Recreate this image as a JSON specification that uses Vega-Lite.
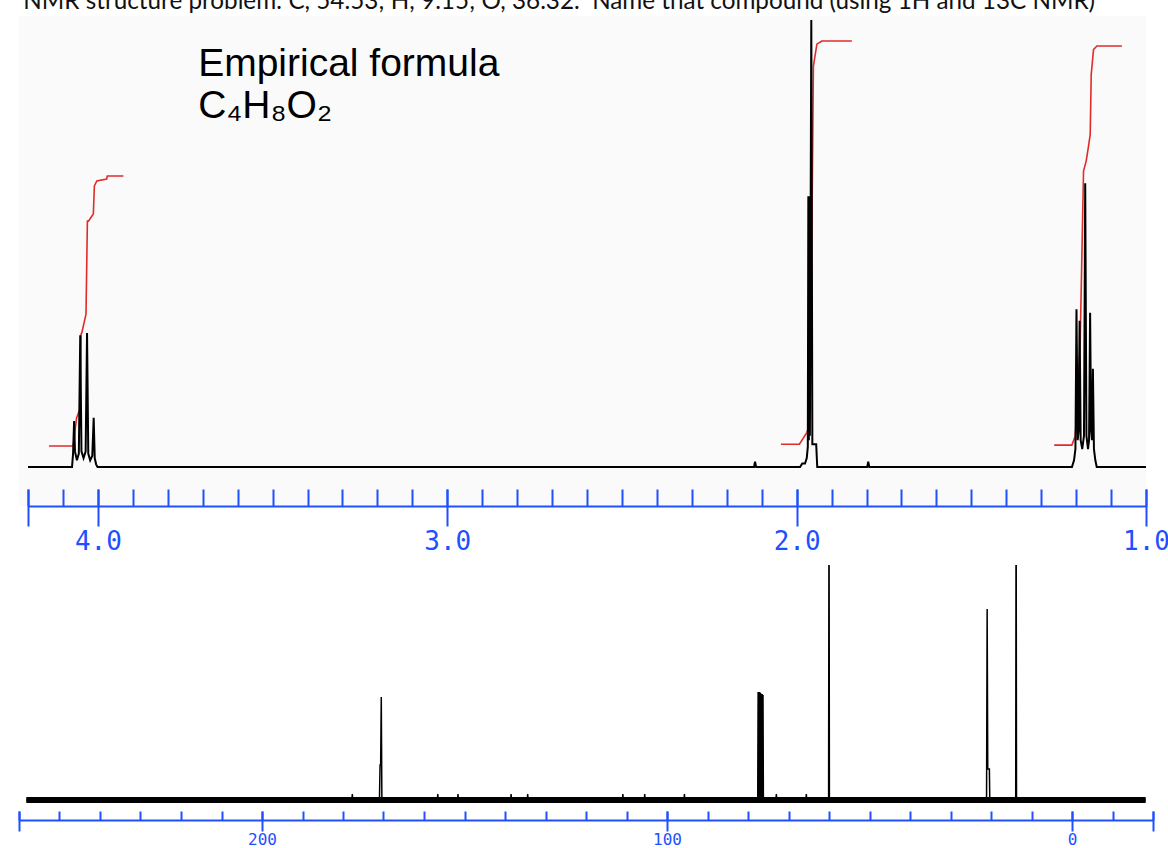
{
  "$schema": "https://vega.github.io/schema/vega-lite/v6.json",
  "background": "white",
  "padding": {"left": 14, "top": -11, "right": 0, "bottom": 0},
  "title": {
    "text": "NMR structure problem: C, 54.53; H, 9.15; O, 36.32. \u00a0Name that compound (using 1H and 13C NMR)",
    "anchor": "start",
    "font": "Lato",
    "fontSize": 24.25,
    "fontWeight": "normal",
    "color": "#111111",
    "offset": 2,
    "dx": 9
  },
  "spacing": 11,
  "datasets": {
    "h1": [
      {"ppm": 4.2, "i": 0},
      {"ppm": 4.074, "i": 0},
      {"ppm": 4.071, "i": 3},
      {"ppm": 4.068, "i": 10.3},
      {"ppm": 4.0655, "i": 3.5},
      {"ppm": 4.06, "i": 1.5},
      {"ppm": 4.0545, "i": 3},
      {"ppm": 4.0505, "i": 29.5},
      {"ppm": 4.047, "i": 3.5},
      {"ppm": 4.041, "i": 2},
      {"ppm": 4.035, "i": 3.5},
      {"ppm": 4.031, "i": 30},
      {"ppm": 4.0275, "i": 3},
      {"ppm": 4.022, "i": 1.5},
      {"ppm": 4.016, "i": 2.5},
      {"ppm": 4.012, "i": 11},
      {"ppm": 4.009, "i": 2},
      {"ppm": 4.005, "i": 0.6},
      {"ppm": 4.001, "i": 0},
      {"ppm": 2.122, "i": 0},
      {"ppm": 2.119, "i": 1.2},
      {"ppm": 2.116, "i": 0},
      {"ppm": 1.99, "i": 0},
      {"ppm": 1.984, "i": 0.8},
      {"ppm": 1.976, "i": 0.8},
      {"ppm": 1.971, "i": 2},
      {"ppm": 1.968, "i": 4.5},
      {"ppm": 1.9665, "i": 60.6},
      {"ppm": 1.965, "i": 6},
      {"ppm": 1.9635, "i": 60.6},
      {"ppm": 1.962, "i": 7},
      {"ppm": 1.958, "i": 100},
      {"ppm": 1.955, "i": 5.1},
      {"ppm": 1.944, "i": 5.1},
      {"ppm": 1.941, "i": 0},
      {"ppm": 1.798, "i": 0},
      {"ppm": 1.795, "i": 1.2},
      {"ppm": 1.792, "i": 0},
      {"ppm": 1.212, "i": 0},
      {"ppm": 1.206, "i": 1.5},
      {"ppm": 1.202, "i": 4},
      {"ppm": 1.199, "i": 35.3},
      {"ppm": 1.1955, "i": 6},
      {"ppm": 1.193, "i": 8},
      {"ppm": 1.19, "i": 32.7},
      {"ppm": 1.187, "i": 6},
      {"ppm": 1.1825, "i": 4},
      {"ppm": 1.1775, "i": 7},
      {"ppm": 1.174, "i": 63.5},
      {"ppm": 1.1705, "i": 7},
      {"ppm": 1.166, "i": 4},
      {"ppm": 1.163, "i": 6},
      {"ppm": 1.16, "i": 34.5},
      {"ppm": 1.157, "i": 8},
      {"ppm": 1.1545, "i": 6},
      {"ppm": 1.152, "i": 22},
      {"ppm": 1.149, "i": 4},
      {"ppm": 1.145, "i": 1.5},
      {"ppm": 1.141, "i": 0},
      {"ppm": 1.0, "i": 0}
    ],
    "h1int": [
      {"seg": "a", "ppm": 4.14, "i": 4.7},
      {"seg": "a", "ppm": 4.071, "i": 4.7},
      {"seg": "a", "ppm": 4.07, "i": 5.1},
      {"seg": "a", "ppm": 4.061, "i": 11},
      {"seg": "a", "ppm": 4.051, "i": 13},
      {"seg": "a", "ppm": 4.048, "i": 29.8},
      {"seg": "a", "ppm": 4.046, "i": 30},
      {"seg": "a", "ppm": 4.034, "i": 34.2},
      {"seg": "a", "ppm": 4.03, "i": 55},
      {"seg": "a", "ppm": 4.027, "i": 55},
      {"seg": "a", "ppm": 4.013, "i": 56.6},
      {"seg": "a", "ppm": 4.01, "i": 62.9},
      {"seg": "a", "ppm": 4.003, "i": 64},
      {"seg": "a", "ppm": 3.975, "i": 64.4},
      {"seg": "a", "ppm": 3.973, "i": 65.1},
      {"seg": "a", "ppm": 3.927, "i": 65.1},
      {"seg": "b", "ppm": 2.045, "i": 5.1},
      {"seg": "b", "ppm": 1.992, "i": 5.1},
      {"seg": "b", "ppm": 1.971, "i": 7.7},
      {"seg": "b", "ppm": 1.966, "i": 8.8},
      {"seg": "b", "ppm": 1.961, "i": 12},
      {"seg": "b", "ppm": 1.952, "i": 89.7},
      {"seg": "b", "ppm": 1.942, "i": 94.6},
      {"seg": "b", "ppm": 1.928, "i": 95.3},
      {"seg": "b", "ppm": 1.842, "i": 95.3},
      {"seg": "c", "ppm": 1.2627, "i": 4.9},
      {"seg": "c", "ppm": 1.2122, "i": 4.9},
      {"seg": "c", "ppm": 1.2026, "i": 6.9},
      {"seg": "c", "ppm": 1.1978, "i": 11.8},
      {"seg": "c", "ppm": 1.1883, "i": 28.2},
      {"seg": "c", "ppm": 1.1788, "i": 66.2},
      {"seg": "c", "ppm": 1.1711, "i": 68.5},
      {"seg": "c", "ppm": 1.1645, "i": 71.8},
      {"seg": "c", "ppm": 1.1597, "i": 74.4},
      {"seg": "c", "ppm": 1.1568, "i": 87.8},
      {"seg": "c", "ppm": 1.1502, "i": 93.4},
      {"seg": "c", "ppm": 1.1405, "i": 94.2},
      {"seg": "c", "ppm": 1.0689, "i": 94.2}
    ],
    "note": [
      {"ppm": 3.713, "i": 87.5, "label": "Empirical formula\nC₄H₈O₂"}
    ],
    "c13base": [
      {"ppm": 258.2, "i": 0},
      {"ppm": -18.2, "i": 0}
    ],
    "c13": [
      {"ppm": 258.2, "i": 0},
      {"ppm": 177.8, "i": 0}, {"ppm": 177.7, "i": 6}, {"ppm": 177.6, "i": 0},
      {"ppm": 171.0, "i": 0},
      {"ppm": 170.85, "i": 35},
      {"ppm": 170.7, "i": 35},
      {"ppm": 170.55, "i": 103},
      {"ppm": 170.4, "i": 0},
      {"ppm": 156.7, "i": 0}, {"ppm": 156.6, "i": 6}, {"ppm": 156.5, "i": 0},
      {"ppm": 151.7, "i": 0}, {"ppm": 151.6, "i": 6}, {"ppm": 151.5, "i": 0},
      {"ppm": 138.6, "i": 0}, {"ppm": 138.5, "i": 6}, {"ppm": 138.4, "i": 0},
      {"ppm": 134.5, "i": 0}, {"ppm": 134.4, "i": 6}, {"ppm": 134.3, "i": 0},
      {"ppm": 111.0, "i": 0}, {"ppm": 110.9, "i": 6}, {"ppm": 110.8, "i": 0},
      {"ppm": 105.6, "i": 0}, {"ppm": 105.5, "i": 6}, {"ppm": 105.4, "i": 0},
      {"ppm": 95.8, "i": 0}, {"ppm": 95.7, "i": 6}, {"ppm": 95.6, "i": 0},
      {"ppm": 77.6, "i": 0},
      {"ppm": 77.5, "i": 108},
      {"ppm": 77.4, "i": 3},
      {"ppm": 77.3, "i": 108},
      {"ppm": 77.2, "i": 3},
      {"ppm": 77.1, "i": 108},
      {"ppm": 77.0, "i": 3},
      {"ppm": 76.9, "i": 107},
      {"ppm": 76.8, "i": 3},
      {"ppm": 76.7, "i": 106},
      {"ppm": 76.6, "i": 3},
      {"ppm": 76.5, "i": 106},
      {"ppm": 76.4, "i": 3},
      {"ppm": 76.3, "i": 105},
      {"ppm": 76.2, "i": 0},
      {"ppm": 73.1, "i": 0}, {"ppm": 73.0, "i": 6}, {"ppm": 72.9, "i": 0},
      {"ppm": 65.7, "i": 0}, {"ppm": 65.6, "i": 6}, {"ppm": 65.5, "i": 0},
      {"ppm": 60.1, "i": 0},
      {"ppm": 60.0, "i": 320},
      {"ppm": 59.9, "i": 0},
      {"ppm": 21.1, "i": 0},
      {"ppm": 20.95, "i": 191},
      {"ppm": 20.8, "i": 31},
      {"ppm": 20.4, "i": 31},
      {"ppm": 20.3, "i": 0},
      {"ppm": 13.9, "i": 0},
      {"ppm": 13.8, "i": 320},
      {"ppm": 13.7, "i": 0},
      {"ppm": -18.2, "i": 0}
    ]
  },
  "vconcat": [
    {
      "width": 1127,
      "height": 490,
      "view": {"fill": "#fafafa", "stroke": null},
      "encoding": {
        "y": {
          "field": "i",
          "type": "quantitative",
          "scale": {"domain": [-8.72, 100.9], "nice": false, "zero": false},
          "axis": null
        }
      },
      "layer": [
        {
          "data": {"name": "h1int"},
          "mark": {"type": "line", "color": "#e02b2b", "strokeWidth": 1.6},
          "encoding": {
            "x": {
              "field": "ppm",
              "type": "quantitative",
              "scale": {"domain": [1.0, 4.2], "range": [9, 1127], "reverse": true, "nice": false, "zero": false},
              "axis": {
                "orient": "bottom",
                "values": [4.2, 4, 3, 2, 1],
                "offset": -17,
                "tickSize": 37,
                "tickWidth": 2,
                "tickColor": "#1e50ff",
                "domain": false,
                "labelExpr": "datum.value > 4.1 ? '' : format(datum.value, '.1f')",
                "labelFont": "DejaVu Sans Mono",
                "labelFontSize": 26,
                "labelColor": "#1e50ff",
                "labelPadding": 2,
                "labelOverlap": false,
                "labelFlush": false,
                "grid": false,
                "title": null
              }
            },
            "detail": {"field": "seg"}
          }
        },
        {
          "data": {"name": "h1"},
          "mark": {"type": "line", "color": "#000000", "strokeWidth": 2},
          "encoding": {
            "x": {
              "field": "ppm",
              "type": "quantitative",
              "axis": {
                "orient": "bottom",
                "values": [4.2, 4.1, 4.0, 3.9, 3.8, 3.7, 3.6, 3.5, 3.4, 3.3, 3.2, 3.1, 3.0, 2.9, 2.8, 2.7, 2.6, 2.5, 2.4, 2.3, 2.2, 2.1, 2.0, 1.9, 1.8, 1.7, 1.6, 1.5, 1.4, 1.3, 1.2, 1.1, 1.0],
                "tickSize": -17,
                "tickWidth": 2,
                "tickColor": "#1e50ff",
                "domain": true,
                "domainColor": "#1e50ff",
                "domainWidth": 2,
                "labels": false,
                "grid": false,
                "title": null
              }
            }
          }
        },
        {
          "data": {"name": "note"},
          "mark": {"type": "text", "align": "left", "baseline": "alphabetic", "font": "Liberation Sans", "fontSize": 39, "lineBreak": "\n", "lineHeight": 42, "color": "#000000"},
          "encoding": {
            "x": {"field": "ppm", "type": "quantitative", "axis": null},
            "text": {"field": "label"}
          }
        }
      ],
      "resolve": {"axis": {"x": "independent"}}
    },
    {
      "width": 1134,
      "height": 255,
      "encoding": {
        "y": {
          "field": "i",
          "type": "quantitative",
          "scale": {"domain": [-20, 235], "nice": false, "zero": false},
          "axis": null
        }
      },
      "layer": [
        {
          "data": {"name": "c13base"},
          "mark": {"type": "line", "color": "#000000", "strokeWidth": 6},
          "encoding": {
            "x": {
              "field": "ppm",
              "type": "quantitative",
              "scale": {"domain": [-20, 260], "reverse": true, "nice": false, "zero": false},
              "axis": {
                "orient": "bottom",
                "values": [-20, -10, 0, 10, 20, 30, 40, 50, 60, 70, 80, 90, 100, 110, 120, 130, 140, 150, 160, 170, 180, 190, 200, 210, 220, 230, 240, 250, 260],
                "tickSize": -9,
                "tickWidth": 2,
                "tickColor": "#1e50ff",
                "domain": true,
                "domainColor": "#1e50ff",
                "domainWidth": 2,
                "labels": false,
                "grid": false,
                "title": null
              }
            }
          }
        },
        {
          "data": {"name": "c13"},
          "mark": {"type": "line", "color": "#000000", "strokeWidth": 1.5, "clip": true},
          "encoding": {
            "x": {
              "field": "ppm",
              "type": "quantitative",
              "axis": {
                "orient": "bottom",
                "values": [260, 200, 100, 0, -20],
                "offset": -9,
                "tickSize": 20,
                "tickWidth": 2,
                "tickColor": "#1e50ff",
                "domain": false,
                "labelExpr": "datum.value == 260 || datum.value == -20 ? '' : format(datum.value, 'd')",
                "labelFont": "DejaVu Sans Mono",
                "labelFontSize": 16,
                "labelColor": "#1e50ff",
                "labelPadding": 0,
                "labelOverlap": false,
                "labelFlush": false,
                "grid": false,
                "title": null
              }
            }
          }
        }
      ],
      "resolve": {"axis": {"x": "independent"}}
    }
  ],
  "config": {
    "view": {"stroke": null},
    "axis": {"grid": false}
  }
}
